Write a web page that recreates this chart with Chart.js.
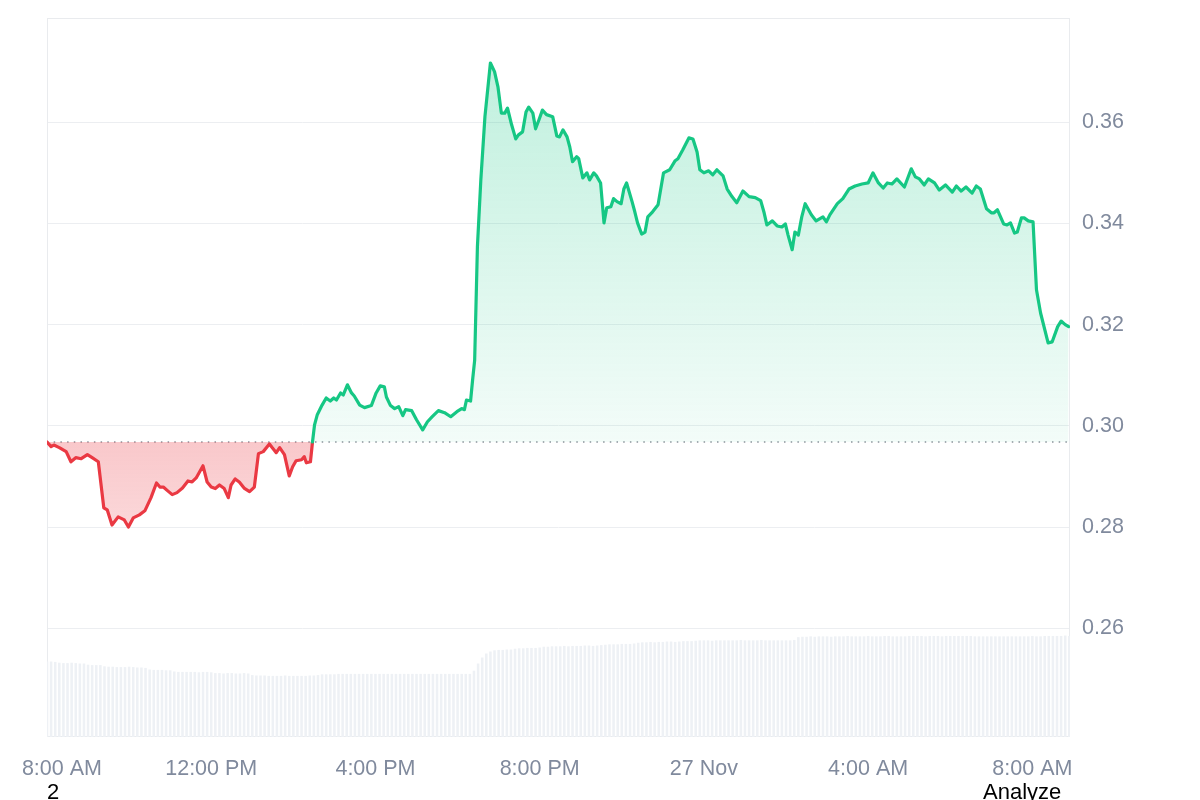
<!DOCTYPE html>
<html><head><meta charset="utf-8">
<script src="https://cdn.jsdelivr.net/npm/chart.js@4.4.1/dist/chart.umd.min.js"></script>
<style>
html,body{margin:0;padding:0;width:1200px;height:800px;overflow:hidden;background:#fff;}
#wrap{position:relative;width:1200px;height:800px;}
canvas{position:absolute;left:0;top:0;}
.note{position:absolute;font-family:Arial,"Liberation Sans",sans-serif;font-size:22px;line-height:22px;color:#000;white-space:nowrap;}
</style></head><body>
<div id="wrap"><canvas id="c" width="1200" height="800"></canvas>
<div class="note" style="left:47px;top:781px">2</div>
<div class="note" style="left:983px;top:781px">Analyze</div></div>
<script>
// ---- data ----
const basePrice = 0.2968; // price 24h ago (dotted reference line)
const priceMinutes = [
 0,6,10,18,28,35,42,50,59,66,75,83,88,95,104,113,119,126,135,143,152,160,165,170,176,183,190,198,206,212,218,228,234,240,246,252,259,265,269,275,281,288,296,303,309,316,325,329,335,340,347,354,359,364,372,376,379,385,388,
 391,395,402,408,414,419,423,429,433,439,445,449,457,464,474,481,487,493,496,502,508,514,520,524,533,540,549,556,563,572,581,590,599,606,610,613,619,622,625,
 629,634,640,648,654,659,664,669,673,679,685,689,695,700,704,710,714,719,724,730,739,745,749,754,760,764,768,774,777,783,789,793,799,803,809,814,818,824,828,833,839,843,847,855,859,863,869,874,878,885,893,901,910,918,922,929,938,944,950,954,960,967,973,979,988,994,
 1001,1008,1017,1026,1035,1043,1048,1052,1060,1067,1074,1079,1083,1089,1093,1098,1103,1108,1117,1124,1134,1139,1144,1155,1163,1172,1181,1191,1200,1207,1215,1222,1228,1235,1242,1253,1263,1269,1275,1282,1288,1297,1304,1313,1323,1329,1336,1343,1352,1358,1364,1373,1380,1384,1389,1398,1403,1408,1414,1418,1424,1428,1434,1441,1446,1452,1463,1469,1477,1482,1488,1493
];
const prices = [
 0.2968,0.2959,0.2962,0.2957,0.2949,0.2929,0.2937,0.2935,0.2943,0.2937,0.2929,0.2838,0.2834,0.2804,0.2820,0.2814,0.2800,0.2818,0.2824,0.2832,0.2858,0.2887,0.2879,0.2879,0.2872,0.2864,0.2868,0.2877,0.2891,0.2889,0.2897,0.2921,0.2889,0.2879,0.2876,0.2883,0.2876,0.2858,0.2883,0.2895,0.2889,0.2877,0.2870,0.2879,0.2945,0.2949,0.2964,0.2957,0.2947,0.2957,0.2943,0.2901,0.2919,0.2931,0.2933,0.2939,0.2927,0.2929,0.2968,
 0.3002,0.3022,0.3041,0.3055,0.3049,0.3055,0.3051,0.3065,0.3061,0.3081,0.3065,0.3059,0.3041,0.3036,0.3040,0.3065,0.3079,0.3077,0.3057,0.3040,0.3034,0.3038,0.3020,0.3032,0.3030,0.3012,0.2992,0.3008,0.3018,0.3030,0.3026,0.3018,0.3028,0.3034,0.3032,0.3051,0.3049,0.3091,0.3130,
 0.3354,0.3486,0.3611,0.3717,0.3700,0.3670,0.3618,0.3618,0.3628,0.3595,0.3567,0.3575,0.3581,0.3620,0.3630,0.3618,0.3587,0.3605,0.3624,0.3615,0.3611,0.3573,0.3571,0.3585,0.3571,0.3551,0.3522,0.3532,0.3528,0.3490,0.3500,0.3486,0.3500,0.3494,0.3480,0.3401,0.3431,0.3433,0.3449,0.3443,0.3439,0.3468,0.3480,0.3443,0.3423,0.3401,0.3379,0.3383,0.3413,0.3423,0.3437,0.3500,0.3506,0.3524,0.3528,0.3545,0.3569,0.3567,0.3541,0.3506,0.3500,0.3504,0.3496,0.3506,0.3494,0.3468,
 0.3453,0.3441,0.3464,0.3453,0.3451,0.3445,0.3421,0.3397,0.3405,0.3395,0.3393,0.3399,0.3377,0.3348,0.3383,0.3377,0.3413,0.3439,0.3417,0.3405,0.3413,0.3403,0.3417,0.3439,0.3449,0.3468,0.3474,0.3478,0.3480,0.3500,0.3480,0.3470,0.3480,0.3478,0.3488,0.3472,0.3508,0.3492,0.3488,0.3476,0.3488,0.3480,0.3466,0.3476,0.3462,0.3474,0.3464,0.3472,0.3460,0.3474,0.3468,0.3429,0.3421,0.3421,0.3427,0.3399,0.3397,0.3401,0.3381,0.3383,0.3411,0.3411,0.3405,0.3403,0.3269,0.3223,0.3164,0.3166,0.3196,0.3207,0.3200,0.3196
];
const volumeStepMinutes = 6;
const volumes = [
 18.9,18.9,18.8,
 18.6,18.5,18.5,18.6,18.5,18.4,18.4,
 18.1,18.0,18.0,18.0,
 17.7,17.6,17.6,17.5,17.5,17.5,17.6,17.5,17.4,17.4,17.3,
 16.9,16.8,16.8,16.8,16.7,16.7,
 16.4,16.3,16.3,16.3,16.3,16.3,16.2,16.3,16.3,16.2,
 16.0,16.0,15.9,16.0,16.0,15.9,15.9,16.0,15.9,
 15.5,15.4,15.4,15.4,15.3,15.3,15.3,15.3,15.4,15.3,15.3,15.3,15.3,15.3,15.4,15.4,15.5,
 15.7,15.7,15.7,15.7,15.8,15.8,15.8,15.8,15.8,15.8,15.8,15.8,15.8,15.8,15.8,15.8,15.8,15.8,15.8,15.8,15.8,15.8,15.8,15.8,15.8,15.8,15.8,15.8,15.8,15.8,15.8,15.8,15.8,15.8,15.8,15.8,15.8,
 16.6,18.4,19.9,20.9,21.4,
 21.7,21.8,21.8,21.9,21.9,
 22.1,22.2,22.2,22.3,22.3,22.3,22.4,
 22.6,22.6,22.7,22.7,22.7,22.8,22.7,22.8,22.8,22.8,22.9,22.9,22.8,22.9,23.0,
 23.1,23.2,23.2,23.2,23.3,23.3,23.3,23.4,
 23.6,23.7,23.7,23.8,23.7,23.8,23.8,23.9,23.9,23.8,23.9,24.0,24.0,24.0,
 24.1,24.2,24.2,24.2,24.1,24.2,24.2,24.2,24.2,24.2,24.2,24.3,24.2,24.2,24.2,24.2,24.3,24.2,24.2,24.2,24.2,24.2,24.2,24.2,24.3,
 25.0,25.1,25.1,25.2,25.1,25.2,25.2,25.2,25.1,25.2,
 25.2,25.2,25.3,25.2,25.2,25.2,25.2,25.3,25.2,25.2,
 25.2,25.3,25.3,25.2,25.2,25.2,25.2,25.3,25.3,25.3,
 25.3,25.2,25.3,25.3,25.3,25.2,25.3,25.3,25.3,25.3,
 25.3,25.3,25.3,25.2,25.2,25.2,25.2,25.2,25.2,25.2,
 25.2,25.2,25.2,25.2,25.2,25.2,25.2,25.3,25.2,25.2,
 25.3,25.3,25.3,25.3,25.3,25.4,25.3
];
const xTickMinutes = [0,240,480,720,960,1200,1440];
const xTickLabels = ['8:00 AM','12:00 PM','4:00 PM','8:00 PM','27 Nov','4:00 AM','8:00 AM'];
const yTickValues = [0.26,0.28,0.30,0.32,0.34,0.36];

// ---- chart ----
const GREEN = '#16c784', RED = '#ea3943';
const TICK_COLOR = '#808a9d';
const FONT = {family:'Arial, "Liberation Sans", sans-serif', size:21.5};
const X_MAX = 1495;

const pricePoints = priceMinutes.map((m,i)=>({x:m, y:prices[i]}));
const volumePoints = volumes.map((v,i)=>({x:i*volumeStepMinutes, y:v}));
const basePoints = [{x:0, y:basePrice},{x:X_MAX, y:basePrice}];

const areaBorder = {
  id:'areaBorder',
  beforeDatasetsDraw(chart){
    const {ctx, chartArea:a} = chart;
    ctx.save();
    ctx.strokeStyle = '#e9ebee';
    ctx.lineWidth = 1;
    ctx.strokeRect(Math.round(a.left)+0.5, Math.round(a.top)+0.5, Math.round(a.width)-1, Math.round(a.height)-1);
    ctx.restore();
  }
};

const below = (v)=> v <= basePrice + 1e-9;
const chart = new Chart(document.getElementById('c').getContext('2d'), {
  type:'line',
  data:{datasets:[
    {type:'line', label:'Price', data:pricePoints, yAxisID:'y', borderWidth:3.2, pointRadius:0, tension:0,
     borderColor:GREEN, borderJoinStyle:'round', borderCapStyle:'round',
     segment:{borderColor: c => (below(c.p0.parsed.y) && below(c.p1.parsed.y)) ? RED : GREEN},
     fill:{target:{value:basePrice}, above:'rgba(22,199,132,0.15)', below:'rgba(234,57,67,0.25)'},
     order:1},
    {type:'line', label:'Open', data:basePoints, yAxisID:'y', borderColor:'#8d939c', borderWidth:1.5,
     borderDash:[1.5,5.2], pointRadius:0, fill:false, order:2},
    {type:'bar', label:'Volume', data:volumePoints, yAxisID:'yVol', backgroundColor:'#eef1f5',
     barPercentage:0.62, categoryPercentage:1, order:3}
  ]},
  options:{
    responsive:false, animation:false, events:[],
    layout:{padding:{left:47, top:18, right:0, bottom:0}},
    plugins:{legend:{display:false}, tooltip:{enabled:false}},
    scales:{
      x:{type:'linear', min:0, max:X_MAX, offset:false,
         grid:{display:false, drawTicks:false, tickLength:0, offset:false}, border:{display:false},
         afterBuildTicks: s => { s.ticks = xTickMinutes.map(v=>({value:v})); },
         ticks:{autoSkip:false, maxRotation:0, minRotation:0, padding:19, color:TICK_COLOR, font:FONT,
           callback:(v)=>{ const i = xTickMinutes.indexOf(v); return (i===0 ? '     ' : '') + xTickLabels[i]; }},
         afterFit: s => { s.height = 63; s.paddingLeft = 0; s.paddingRight = 0; }
      },
      y:{position:'right', min:0.2385, max:0.3806,
         afterBuildTicks: s => { s.ticks = yTickValues.map(v=>({value:v})); },
         grid:{color:'#eceef1', drawTicks:false, tickLength:0}, border:{display:false},
         ticks:{padding:12, color:TICK_COLOR, font:FONT, callback:v=>Number(v).toFixed(2)},
         afterFit: s => { s.width = 130; s.paddingTop = 0; s.paddingBottom = 0; }
      },
      yVol:{display:false, min:0, max:180}
    }
  },
  plugins:[areaBorder]
});

// gradient fills once the chart area is known
(function(){
  const c2 = chart.ctx, yS = chart.scales.y;
  const baseY = yS.getPixelForValue(basePrice);
  const gUp = c2.createLinearGradient(0, yS.getPixelForValue(0.372), 0, baseY);
  gUp.addColorStop(0, 'rgba(22,199,132,0.27)');
  gUp.addColorStop(1, 'rgba(22,199,132,0.05)');
  const gDown = c2.createLinearGradient(0, baseY, 0, yS.getPixelForValue(0.28));
  gDown.addColorStop(0, 'rgba(234,57,67,0.28)');
  gDown.addColorStop(1, 'rgba(234,57,67,0.20)');
  chart.data.datasets[0].fill = {target:{value:basePrice}, above:gUp, below:gDown};
  chart.update('none');
})();
</script>
</body></html>
